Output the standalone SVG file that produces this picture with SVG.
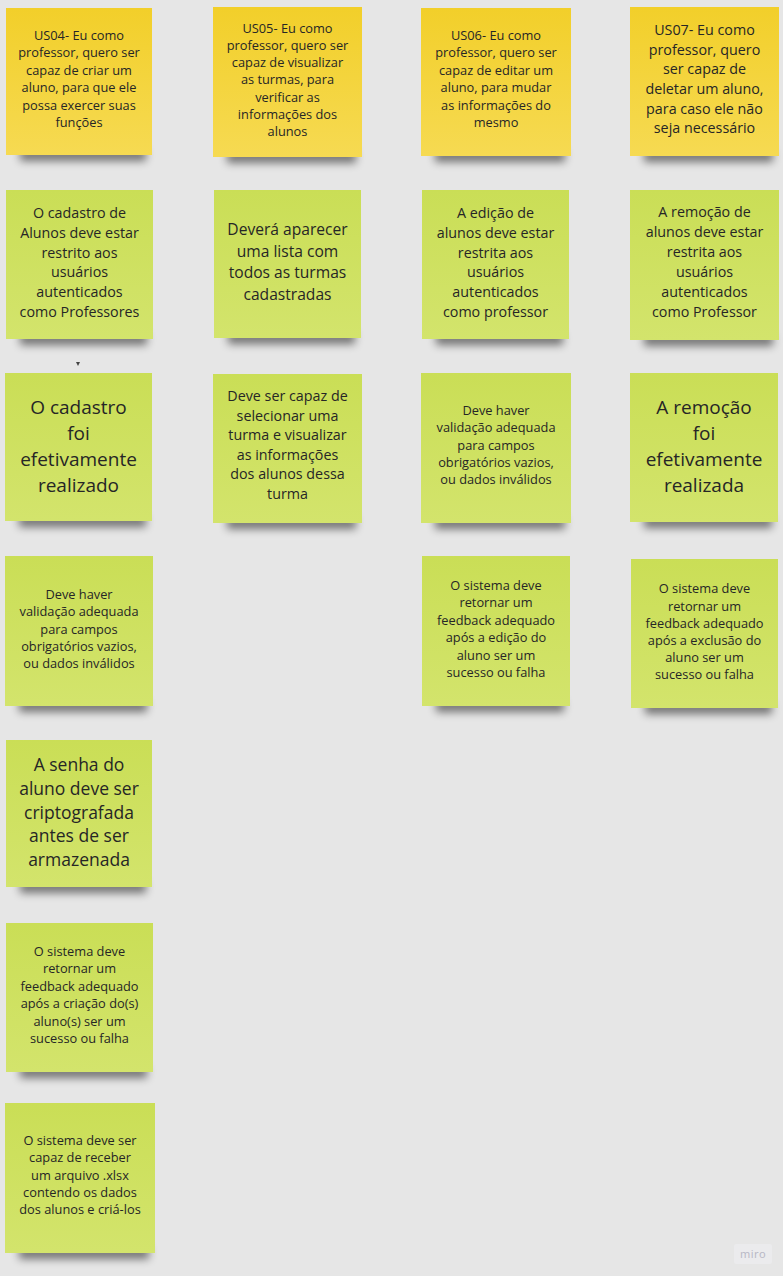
<svg xmlns="http://www.w3.org/2000/svg" width="783" height="1276" viewBox="0 0 783 1276">
<defs>
<linearGradient id="gy" x1="0" y1="0" x2="0" y2="1"><stop offset="0" stop-color="#f2cf2a"/><stop offset="1" stop-color="#f6da52"/></linearGradient>
<linearGradient id="gg" x1="0" y1="0" x2="0" y2="1"><stop offset="0" stop-color="#cade56"/><stop offset="1" stop-color="#d3e46c"/></linearGradient>
<filter id="blur" x="-20%" y="-100%" width="140%" height="300%"><feGaussianBlur stdDeviation="4"/></filter>
</defs>
<style>
.y{fill:url(#gy)}
.g{fill:url(#gg)}
.sh{fill:#000;opacity:.5;filter:url(#blur)}
text{font-family:"Open Sans","Noto Sans","Liberation Sans",sans-serif;fill:#262626;text-anchor:middle}
.s13{font-size:12.8px}
.s14{font-size:14.3px}
.s16{font-size:15.6px}
.s17{font-size:17.5px}
.s19{font-size:19px}
</style>
<rect width="783" height="1276" fill="#e6e6e6"/>

<g id="us04">
<rect class="sh" x="20" y="149" width="126" height="12"/>
<rect class="y" x="6" y="8" width="146" height="147"/>
<text class="s13" x="79"><tspan x="79" y="40">US04- Eu como</tspan><tspan x="79" y="57.4">professor, quero ser</tspan><tspan x="79" y="74.8">capaz de criar um</tspan><tspan x="79" y="92.2">aluno, para que ele</tspan><tspan x="79" y="109.6">possa exercer suas</tspan><tspan x="79" y="127">funções</tspan></text>
</g>
<g id="us05">
<rect class="sh" x="227" y="151" width="129" height="12"/>
<rect class="y" x="213" y="7" width="149" height="150"/>
<text class="s13"><tspan x="287.5" y="32.5">US05- Eu como</tspan><tspan x="287.5" y="49.8">professor, quero ser</tspan><tspan x="287.5" y="67.1">capaz de visualizar</tspan><tspan x="287.5" y="84.4">as turmas, para</tspan><tspan x="287.5" y="101.7">verificar as</tspan><tspan x="287.5" y="119">informações dos</tspan><tspan x="287.5" y="136.3">alunos</tspan></text>
</g>
<g id="us06">
<rect class="sh" x="435" y="150" width="130" height="12"/>
<rect class="y" x="421" y="8" width="150" height="148"/>
<text class="s13"><tspan x="496" y="39.5">US06- Eu como</tspan><tspan x="496" y="57">professor, quero ser</tspan><tspan x="496" y="74.5">capaz de editar um</tspan><tspan x="496" y="92">aluno, para mudar</tspan><tspan x="496" y="109.5">as informações do</tspan><tspan x="496" y="127">mesmo</tspan></text>
</g>
<g id="us07">
<rect class="sh" x="644" y="150" width="129" height="12"/>
<rect class="y" x="630" y="7" width="149" height="149"/>
<text class="s14"><tspan x="704.5" y="35">US07- Eu como</tspan><tspan x="704.5" y="54.7">professor, quero</tspan><tspan x="704.5" y="74.3">ser capaz de</tspan><tspan x="704.5" y="94">deletar um aluno,</tspan><tspan x="704.5" y="113.7">para caso ele não</tspan><tspan x="704.5" y="133.3">seja necessário</tspan></text>
</g>

<g id="c1-2">
<rect class="sh" x="20" y="333" width="127" height="12"/>
<rect class="g" x="6" y="190" width="147" height="149"/>
<text class="s14"><tspan x="79.5" y="218">O cadastro de</tspan><tspan x="79.5" y="237.8">Alunos deve estar</tspan><tspan x="79.5" y="257.6">restrito aos</tspan><tspan x="79.5" y="277.4">usuários</tspan><tspan x="79.5" y="297.2">autenticados</tspan><tspan x="79.5" y="317">como Professores</tspan></text>
</g>
<g id="c2-2">
<rect class="sh" x="228" y="332" width="127" height="12"/>
<rect class="g" x="214" y="190" width="147" height="148"/>
<text class="s16"><tspan x="287.5" y="235">Deverá aparecer</tspan><tspan x="287.5" y="256.7">uma lista com</tspan><tspan x="287.5" y="278.3">todos as turmas</tspan><tspan x="287.5" y="300">cadastradas</tspan></text>
</g>
<g id="c3-2">
<rect class="sh" x="436" y="333" width="127" height="12"/>
<rect class="g" x="422" y="190" width="147" height="149"/>
<text class="s14"><tspan x="495.5" y="218">A edição de</tspan><tspan x="495.5" y="237.8">alunos deve estar</tspan><tspan x="495.5" y="257.6">restrita aos</tspan><tspan x="495.5" y="277.4">usuários</tspan><tspan x="495.5" y="297.2">autenticados</tspan><tspan x="495.5" y="317">como professor</tspan></text>
</g>
<g id="c4-2">
<rect class="sh" x="644" y="334" width="129" height="12"/>
<rect class="g" x="630" y="190" width="149" height="150"/>
<text class="s14"><tspan x="704.5" y="217.3">A remoção de</tspan><tspan x="704.5" y="237.2">alunos deve estar</tspan><tspan x="704.5" y="257.1">restrita aos</tspan><tspan x="704.5" y="277">usuários</tspan><tspan x="704.5" y="296.9">autenticados</tspan><tspan x="704.5" y="316.7">como Professor</tspan></text>
</g>

<polygon points="76,362 80,362 78,366" fill="#444"/>

<g id="c1-3">
<rect class="sh" x="19" y="515" width="127" height="12"/>
<rect class="g" x="5" y="373" width="147" height="148"/>
<text class="s19"><tspan x="78.5" y="414">O cadastro</tspan><tspan x="78.5" y="439.9">foi</tspan><tspan x="78.5" y="465.8">efetivamente</tspan><tspan x="78.5" y="491.7">realizado</tspan></text>
</g>
<g id="c2-3">
<rect class="sh" x="227" y="517" width="129" height="12"/>
<rect class="g" x="213" y="374" width="149" height="149"/>
<text class="s14"><tspan x="287.5" y="401">Deve ser capaz de</tspan><tspan x="287.5" y="420.6">selecionar uma</tspan><tspan x="287.5" y="440.2">turma e visualizar</tspan><tspan x="287.5" y="459.8">as informações</tspan><tspan x="287.5" y="479.4">dos alunos dessa</tspan><tspan x="287.5" y="499">turma</tspan></text>
</g>
<g id="c3-3">
<rect class="sh" x="435" y="517" width="130" height="12"/>
<rect class="g" x="421" y="373" width="150" height="150"/>
<text class="s13"><tspan x="496" y="415">Deve haver</tspan><tspan x="496" y="432.25">validação adequada</tspan><tspan x="496" y="449.5">para campos</tspan><tspan x="496" y="466.75">obrigatórios vazios,</tspan><tspan x="496" y="484">ou dados inválidos</tspan></text>
</g>
<g id="c4-3">
<rect class="sh" x="644" y="516" width="128" height="12"/>
<rect class="g" x="630" y="373" width="148" height="149"/>
<text class="s19"><tspan x="704" y="414">A remoção</tspan><tspan x="704" y="439.9">foi</tspan><tspan x="704" y="465.8">efetivamente</tspan><tspan x="704" y="491.7">realizada</tspan></text>
</g>

<g id="c1-4">
<rect class="sh" x="19" y="700" width="128" height="12"/>
<rect class="g" x="5" y="556" width="148" height="150"/>
<text class="s13"><tspan x="79" y="599">Deve haver</tspan><tspan x="79" y="616.25">validação adequada</tspan><tspan x="79" y="633.5">para campos</tspan><tspan x="79" y="650.75">obrigatórios vazios,</tspan><tspan x="79" y="668">ou dados inválidos</tspan></text>
</g>
<g id="c3-4">
<rect class="sh" x="436" y="700" width="128" height="12"/>
<rect class="g" x="422" y="556" width="148" height="150"/>
<text class="s13"><tspan x="496" y="590">O sistema deve</tspan><tspan x="496" y="607.4">retornar um</tspan><tspan x="496" y="624.8">feedback adequado</tspan><tspan x="496" y="642.2">após a edição do</tspan><tspan x="496" y="659.6">aluno ser um</tspan><tspan x="496" y="677">sucesso ou falha</tspan></text>
</g>
<g id="c4-4">
<rect class="sh" x="645" y="702" width="127" height="12"/>
<rect class="g" x="631" y="559" width="147" height="149"/>
<text class="s13"><tspan x="704.5" y="593.3">O sistema deve</tspan><tspan x="704.5" y="610.5">retornar um</tspan><tspan x="704.5" y="627.7">feedback adequado</tspan><tspan x="704.5" y="644.9">após a exclusão do</tspan><tspan x="704.5" y="662.1">aluno ser um</tspan><tspan x="704.5" y="679.3">sucesso ou falha</tspan></text>
</g>

<g id="c1-5">
<rect class="sh" x="20" y="881" width="126" height="12"/>
<rect class="g" x="6" y="740" width="146" height="147"/>
<text class="s17"><tspan x="79" y="771">A senha do</tspan><tspan x="79" y="794.75">aluno deve ser</tspan><tspan x="79" y="818.5">criptografada</tspan><tspan x="79" y="842.25">antes de ser</tspan><tspan x="79" y="866">armazenada</tspan></text>
</g>
<g id="c1-6">
<rect class="sh" x="20" y="1066" width="127" height="12"/>
<rect class="g" x="6" y="923" width="147" height="149"/>
<text class="s13"><tspan x="79.5" y="956">O sistema deve</tspan><tspan x="79.5" y="973.4">retornar um</tspan><tspan x="79.5" y="990.8">feedback adequado</tspan><tspan x="79.5" y="1008.2">após a criação do(s)</tspan><tspan x="79.5" y="1025.6">aluno(s) ser um</tspan><tspan x="79.5" y="1043">sucesso ou falha</tspan></text>
</g>
<g id="c1-7">
<rect class="sh" x="19" y="1247" width="130" height="12"/>
<rect class="g" x="5" y="1103" width="150" height="150"/>
<text class="s13"><tspan x="80" y="1145">O sistema deve ser</tspan><tspan x="80" y="1162.25">capaz de receber</tspan><tspan x="80" y="1179.5">um arquivo .xlsx</tspan><tspan x="80" y="1196.75">contendo os dados</tspan><tspan x="80" y="1214">dos alunos e criá-los</tspan></text>
</g>

<g id="miro">
<rect x="734" y="1244" width="38" height="20" rx="2" fill="#ebebed"/>
<text x="753" y="1258" style="font-size:11px;fill:#b9b9c6;font-family:'Noto Sans','Liberation Sans',sans-serif;letter-spacing:.5px">miro</text>
</g>
</svg>
